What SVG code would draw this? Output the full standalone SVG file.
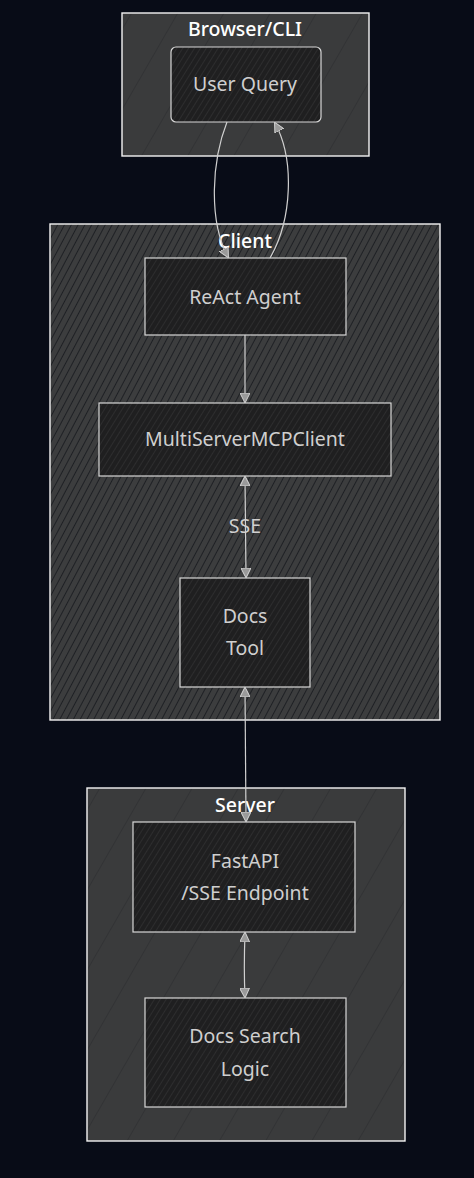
<svg xmlns="http://www.w3.org/2000/svg" width="474" height="1178" viewBox="0 0 474 1178">
<style>
.cl{stroke:#f4f4f4;stroke-width:1.4}
.nd{stroke:#d8d8d8;stroke-width:1.2}
.ct{font-family:"Noto Sans","Open Sans",sans-serif;font-size:19.5px;font-weight:500;fill:#ffffff;text-anchor:middle}
.nt{font-family:"Noto Sans","Open Sans",sans-serif;font-size:19.5px;fill:#cfcfcf;text-anchor:middle}
.ed{fill:none;stroke:#d0d0d0;stroke-width:1.2}
</style>
<defs>
<pattern id="hs" width="40" height="40" patternUnits="userSpaceOnUse" patternTransform="rotate(30)">
<rect width="40" height="40" fill="#3a3b3c"/>
<line x1="0" y1="0" x2="0" y2="40" stroke="#2a2b2d" stroke-width="1"/>
</pattern>
<pattern id="hd" width="6" height="6" patternUnits="userSpaceOnUse" patternTransform="rotate(28)">
<rect width="6" height="6" fill="#3c3d3e"/>
<line x1="0" y1="0" x2="0" y2="6" stroke="#14161b" stroke-width="1.5"/>
</pattern>
<pattern id="hn" width="5" height="5" patternUnits="userSpaceOnUse" patternTransform="rotate(32)">
<rect width="5" height="5" fill="#1f1f20"/>
<line x1="0" y1="0" x2="0" y2="5" stroke="#3a3a3b" stroke-width="1"/>
</pattern>
<marker id="ae" viewBox="0 0 10 10" refX="9" refY="5" markerWidth="10" markerHeight="10" markerUnits="userSpaceOnUse" orient="auto">
<path d="M0,0 L10,5 L0,10 Z" fill="#9a9a9a" stroke="#d0d0d0" stroke-width="1"/>
</marker>
<marker id="as" viewBox="0 0 10 10" refX="1" refY="5" markerWidth="10" markerHeight="10" markerUnits="userSpaceOnUse" orient="auto">
<path d="M10,0 L0,5 L10,10 Z" fill="#9a9a9a" stroke="#d0d0d0" stroke-width="1"/>
</marker>
</defs>
<rect width="474" height="1178" fill="#080c17"/>

<g id="browser-cli">
<rect class="cl" x="122" y="13" width="247" height="143" fill="url(#hs)"/>
<text class="ct" x="245" y="36">Browser/CLI</text>
</g>
<g id="client">
<rect class="cl" x="50" y="224" width="390" height="496" fill="url(#hd)"/>
<text class="ct" x="245" y="248">Client</text>
</g>
<g id="server">
<rect class="cl" x="87" y="788" width="318" height="353" fill="url(#hs)"/>
<text class="ct" x="245" y="812">Server</text>
</g>

<g id="user-query">
<rect class="nd" x="171" y="47" width="150" height="75" rx="5" fill="url(#hn)"/>
<text class="nt" x="245" y="91">User Query</text>
</g>
<g id="react-agent">
<rect class="nd" x="145" y="258" width="201" height="77" fill="url(#hn)"/>
<text class="nt" x="245" y="304">ReAct Agent</text>
</g>
<g id="multiserver">
<rect class="nd" x="99" y="403" width="292" height="73" fill="url(#hn)"/>
<text class="nt" x="245" y="446">MultiServerMCPClient</text>
</g>
<g id="docs-tool">
<rect class="nd" x="180" y="578" width="130" height="109" fill="url(#hn)"/>
<text class="nt" x="245" y="623">Docs</text>
<text class="nt" x="245" y="655">Tool</text>
</g>
<g id="fastapi">
<rect class="nd" x="133" y="822" width="222" height="110" fill="url(#hn)"/>
<text class="nt" x="245" y="868">FastAPI</text>
<text class="nt" x="245" y="900">/SSE Endpoint</text>
</g>
<g id="docs-search">
<rect class="nd" x="145" y="998" width="201" height="109" fill="url(#hn)"/>
<text class="nt" x="245" y="1043">Docs Search</text>
<text class="nt" x="245" y="1076">Logic</text>
</g>

<g id="connectors">
<path class="ed" d="M227,122 C212,160 208,220 228,257" marker-end="url(#ae)"/>
<path class="ed" d="M270,258 C292,220 295,160 275,123" marker-end="url(#ae)"/>
<path class="ed" d="M245,335 L245,402" marker-end="url(#ae)"/>
<path class="ed" d="M245,477 L246,577" marker-start="url(#as)" marker-end="url(#ae)"/>
<path class="ed" d="M245,688 L246,821" marker-start="url(#as)" marker-end="url(#ae)"/>
<path class="ed" d="M245,933 C244,960 244,975 245,997" marker-start="url(#as)" marker-end="url(#ae)"/>
<text class="nt" x="245" y="533">SSE</text>
</g>
</svg>
